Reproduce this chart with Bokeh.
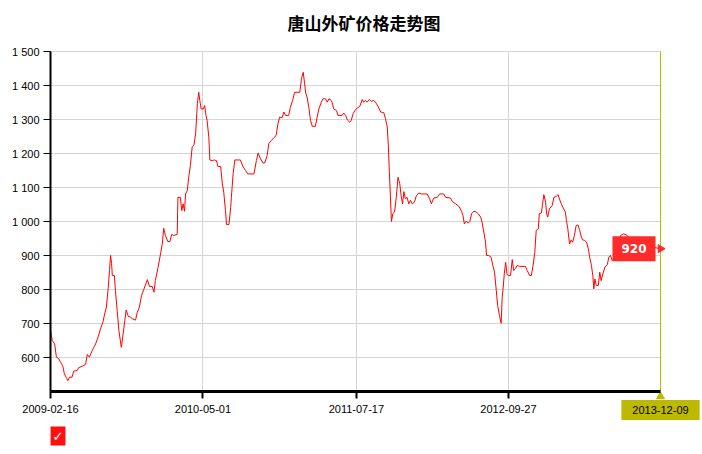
import pandas as pd
from math import pi
from bokeh.plotting import figure
from bokeh.models import Range1d, FixedTicker, DatetimeTickFormatter, Label
from bokeh.embed import file_html
from bokeh.resources import INLINE

title_text = "唐山外矿价格走势图"

dates = [
    "2009-02-16", "2009-02-21", "2009-02-28", "2009-03-05", "2009-03-12", "2009-03-17",
    "2009-03-23", "2009-03-28", "2009-04-02", "2009-04-07", "2009-04-12", "2009-04-19",
    "2009-04-24", "2009-05-04", "2009-05-08", "2009-05-18", "2009-05-28", "2009-06-02",
    "2009-06-08", "2009-06-16", "2009-06-26", "2009-07-03", "2009-07-10", "2009-07-17",
    "2009-07-22", "2009-07-27", "2009-08-01", "2009-08-05", "2009-08-08", "2009-08-11",
    "2009-08-13", "2009-08-19", "2009-08-22", "2009-08-27", "2009-09-01", "2009-09-08",
    "2009-09-12", "2009-09-18", "2009-09-22", "2009-09-28", "2009-10-04", "2009-10-11",
    "2009-10-19", "2009-10-24", "2009-10-30", "2009-11-05", "2009-11-12", "2009-11-22",
    "2009-11-28", "2009-12-06", "2009-12-11", "2009-12-15", "2009-12-22", "2009-12-30",
    "2010-01-04", "2010-01-08", "2010-01-13", "2010-01-20", "2010-01-26", "2010-01-31",
    "2010-02-06", "2010-02-16", "2010-02-18", "2010-02-25", "2010-03-01", "2010-03-05",
    "2010-03-09", "2010-03-12", "2010-03-17", "2010-03-21", "2010-03-26", "2010-03-31",
    "2010-04-05", "2010-04-10", "2010-04-15", "2010-04-19", "2010-04-22", "2010-04-26",
    "2010-05-02", "2010-05-06", "2010-05-09", "2010-05-13", "2010-05-18", "2010-05-21",
    "2010-05-28", "2010-06-03", "2010-06-09", "2010-06-13", "2010-06-21", "2010-06-26",
    "2010-06-30", "2010-07-05", "2010-07-08", "2010-07-15", "2010-07-20", "2010-07-22",
    "2010-07-27", "2010-08-01", "2010-08-17", "2010-08-25", "2010-09-01", "2010-09-07",
    "2010-09-25", "2010-10-02", "2010-10-07", "2010-10-14", "2010-10-21", "2010-10-26",
    "2010-11-02", "2010-11-07", "2010-11-14", "2010-11-21", "2010-11-28", "2010-12-03",
    "2010-12-08", "2010-12-15", "2010-12-20", "2010-12-25", "2011-01-03", "2011-01-08",
    "2011-01-15", "2011-01-20", "2011-02-04", "2011-02-09", "2011-02-14", "2011-02-18",
    "2011-02-21", "2011-02-25", "2011-03-02", "2011-03-07", "2011-03-12", "2011-03-21",
    "2011-03-26", "2011-03-31", "2011-04-07", "2011-04-12", "2011-04-19", "2011-04-24",
    "2011-04-29", "2011-05-03", "2011-05-08", "2011-05-13", "2011-05-21", "2011-05-25",
    "2011-06-06", "2011-06-11", "2011-06-16", "2011-06-21", "2011-06-28", "2011-07-02",
    "2011-07-08", "2011-07-15", "2011-07-27", "2011-08-03", "2011-08-07", "2011-08-12",
    "2011-08-17", "2011-08-24", "2011-08-29", "2011-09-04", "2011-09-10", "2011-09-17",
    "2011-09-25", "2011-10-04", "2011-10-09", "2011-10-14", "2011-10-17", "2011-10-20",
    "2011-10-23", "2011-10-26", "2011-10-30", "2011-11-04", "2011-11-09", "2011-11-14",
    "2011-11-19", "2011-11-23", "2011-11-27", "2011-12-01", "2011-12-05", "2011-12-10",
    "2011-12-15", "2011-12-20", "2011-12-25", "2011-12-31", "2012-01-06", "2012-01-13",
    "2012-01-20", "2012-02-06", "2012-02-13", "2012-02-18", "2012-02-25", "2012-03-06",
    "2012-03-13", "2012-03-25", "2012-03-30", "2012-04-13", "2012-04-18", "2012-04-28",
    "2012-05-07", "2012-05-15", "2012-05-19", "2012-05-23", "2012-05-28", "2012-06-03",
    "2012-06-08", "2012-06-13", "2012-06-19", "2012-06-26", "2012-07-02", "2012-07-09",
    "2012-07-13", "2012-07-18", "2012-07-23", "2012-07-26", "2012-08-01", "2012-08-08",
    "2012-08-13", "2012-08-18", "2012-08-23", "2012-08-27", "2012-09-01", "2012-09-06",
    "2012-09-09", "2012-09-12", "2012-09-15", "2012-09-19", "2012-09-23", "2012-09-28",
    "2012-10-03", "2012-10-08", "2012-10-12", "2012-10-17", "2012-10-22", "2012-10-29",
    "2012-11-15", "2012-11-20", "2012-11-27", "2012-12-02", "2012-12-07", "2012-12-12",
    "2012-12-16", "2012-12-22", "2012-12-25", "2012-12-31", "2013-01-04", "2013-01-07",
    "2013-01-12", "2013-01-15", "2013-01-18", "2013-01-23", "2013-01-31", "2013-02-05",
    "2013-02-12", "2013-02-17", "2013-02-21", "2013-02-27", "2013-03-05", "2013-03-10",
    "2013-03-13", "2013-03-17", "2013-03-22", "2013-03-27", "2013-03-31", "2013-04-05",
    "2013-04-10", "2013-04-15", "2013-04-20", "2013-04-25", "2013-04-29", "2013-05-05",
    "2013-05-10", "2013-05-15", "2013-05-19", "2013-05-24", "2013-05-28", "2013-05-31",
    "2013-06-03", "2013-06-07", "2013-06-13", "2013-06-17", "2013-06-21", "2013-06-26",
    "2013-07-02", "2013-07-09", "2013-07-13", "2013-07-18", "2013-07-23", "2013-08-01",
    "2013-08-06", "2013-08-16", "2013-08-25", "2013-09-04", "2013-09-13", "2013-10-01",
    "2013-10-15", "2013-10-30", "2013-11-09", "2013-11-19", "2013-12-09",
]

prices = [
    680, 650, 640, 601, 596, 586,
    576, 552, 542, 532, 542, 542,
    560, 562, 570, 574, 580, 609,
    601, 620, 640, 660, 684, 704,
    728, 748, 802, 856, 900, 876,
    841, 841, 797, 738, 679, 630,
    660, 709, 740, 721, 719, 713,
    710, 733, 748, 782, 801, 829,
    809, 809, 792, 826, 861, 905,
    934, 980, 959, 941, 941, 962,
    959, 962, 1071, 1071, 1032, 1052,
    1030, 1081, 1091, 1130, 1165, 1219,
    1224, 1258, 1346, 1380, 1356, 1331,
    1331, 1341, 1317, 1297, 1248, 1181,
    1179, 1181, 1179, 1162, 1162, 1111,
    1086, 1032, 991, 991, 1042, 1071,
    1140, 1181, 1181, 1160, 1150, 1140,
    1140, 1179, 1201, 1184, 1172, 1172,
    1194, 1230, 1238, 1246, 1253, 1287,
    1307, 1305, 1322, 1312, 1312, 1336,
    1358, 1380, 1380, 1420, 1439, 1405,
    1378, 1366, 1336, 1297, 1280, 1280,
    1307, 1331, 1351, 1361, 1361, 1351,
    1361, 1359, 1351, 1331, 1326, 1312,
    1312, 1319, 1312, 1299, 1292, 1297,
    1318, 1330, 1339, 1359, 1351, 1356,
    1351, 1359, 1353, 1356, 1351, 1339,
    1322, 1320, 1302, 1278, 1224, 1145,
    1076, 1000, 1023, 1028, 1071, 1130,
    1111, 1076, 1052, 1088, 1067, 1071,
    1052, 1062, 1052, 1057, 1076, 1084,
    1081, 1081, 1067, 1052, 1069, 1071,
    1081, 1081, 1071, 1069, 1059, 1052,
    1045, 1030, 1018, 993, 1001, 995,
    1001, 1023, 1030, 1028, 1023, 1013,
    998, 969, 939, 900, 900, 895,
    871, 851, 797, 753, 724, 701,
    777, 807, 846, 880, 844, 841,
    841, 888, 856, 861, 871, 868,
    868, 856, 841, 841, 871, 910,
    974, 979, 1023, 1025, 1057, 1079,
    1057, 1023, 1013, 1037, 1047, 1071,
    1074, 1079, 1066, 1050, 1037, 1028,
    1003, 979, 934, 946, 939, 959,
    988, 990, 976, 954, 946, 944,
    939, 920, 895, 871, 841, 802,
    831, 812, 812, 851, 826, 846,
    866, 873, 895, 900, 885, 895,
    929, 959, 964, 959, 945, 938,
    930, 934, 929, 924, 920,
]

x_tick_dates = ["2009-02-16", "2010-05-01", "2011-07-17", "2012-09-27"]
end_date = "2013-12-09"
y_ticks = [600, 700, 800, 900, 1000, 1100, 1200, 1300, 1400, 1500]
y_tick_labels = ["600", "700", "800", "900", "1 000", "1 100", "1 200", "1 300", "1 400", "1 500"]
y_min, y_max = 500, 1500
last_label = "920"

# ---- layout (pixels) ----
W, H = 702, 454
plot_left_px, plot_right_px, plot_top_px, plot_bottom_px = 50, 660, 51, 391

x = pd.to_datetime(dates)
start_ts = pd.Timestamp(x_tick_dates[0])
end_ts = pd.Timestamp(end_date)
span = end_ts - start_ts
plot_w = plot_right_px - plot_left_px
# the frame fills the whole canvas (axes are pinned with fixed_location),
# so that nothing drawn outside the plot area gets clipped
x_lo = start_ts - span * (plot_left_px / plot_w)
x_hi = end_ts + span * ((W - plot_right_px) / plot_w)
px_per_unit = (plot_bottom_px - plot_top_px) / (y_max - y_min)
y_lo = y_min - (H - plot_bottom_px) / px_per_unit
y_hi = y_max + plot_top_px / px_per_unit

p = figure(
    width=W, height=H,
    x_axis_type="datetime",
    x_range=Range1d(x_lo, x_hi),
    y_range=Range1d(y_lo, y_hi),
    output_backend="svg", toolbar_location=None,
    min_border=0,
)
p.background_fill_color = "white"
p.border_fill_color = "white"
p.outline_line_color = None

start_ms = start_ts.value // 10**6
end_ms = end_ts.value // 10**6
tick_ms = [pd.Timestamp(d).value // 10**6 for d in x_tick_dates]
p.xaxis.ticker = FixedTicker(ticks=tick_ms)
fmt = "%Y-%m-%d"
p.xaxis.formatter = DatetimeTickFormatter(
    milliseconds=fmt, seconds=fmt, minsec=fmt, minutes=fmt, hourmin=fmt,
    hours=fmt, days=fmt, months=fmt, years=fmt,
)
p.xaxis.fixed_location = y_min
p.xaxis.bounds = (start_ms, end_ms)
p.yaxis.ticker = FixedTicker(ticks=y_ticks)
p.yaxis.major_label_overrides = {t: lab for t, lab in zip(y_ticks, y_tick_labels)}
p.yaxis.fixed_location = start_ms
p.yaxis.bounds = (y_min, y_max)

tick_font = "Liberation Sans"
for ax in (p.xaxis[0], p.yaxis[0]):
    ax.axis_line_color = "black"
    ax.major_tick_line_color = "black"
    ax.major_tick_in = 0
    ax.minor_tick_line_color = None
    ax.major_label_text_font = tick_font
    ax.major_label_text_font_size = "11px"
    ax.major_label_text_color = "#000000"
p.xaxis.axis_line_width = 3
p.xaxis.major_tick_out = 7
p.xaxis.major_tick_line_width = 2
p.xaxis.major_label_standoff = 6
p.yaxis.axis_line_width = 2
p.yaxis.major_tick_out = 7
p.yaxis.major_tick_line_width = 1
p.yaxis.major_label_standoff = 4

grid_color = "#d4d4d4"
xg, yg = p.xgrid[0], p.ygrid[0]
if hasattr(type(xg), "cross_bounds"):
    xg.cross_bounds = (y_min, y_max)
    yg.cross_bounds = (start_ms, end_ms)
    xg.bounds = (start_ms, end_ms)
    yg.bounds = (y_min, y_max)
    xg.grid_line_color = grid_color
    yg.grid_line_color = grid_color
else:
    xg.visible = False
    yg.visible = False
    gx = pd.to_datetime(x_tick_dates)
    p.segment(x0=gx, y0=[y_min] * len(gx), x1=gx, y1=[y_max] * len(gx),
              line_color=grid_color, line_width=1)
    p.segment(x0=[start_ts] * len(y_ticks), y0=y_ticks, x1=[end_ts] * len(y_ticks),
              y1=y_ticks, line_color=grid_color, line_width=1)

# title
p.add_layout(Label(
    x=start_ts, y=y_max, text=title_text, x_offset=237, y_offset=29,
    text_align="left", text_baseline="middle",
    text_color="#000000", text_font="Noto Sans CJK SC", text_font_style="bold",
    text_font_size="17px",
))

olive = "#bdb900"
# crosshair at the last date
p.segment(x0=[end_ts], y0=[y_min], x1=[end_ts], y1=[y_max], line_color=olive, line_width=1)

p.line(x, prices, line_color="#ff0000", line_width=1)

# value flag at the last point
flag_red = "#ff2a2a"
p.add_layout(Label(
    x=x[-1], y=prices[-1], text=last_label, x_offset=-26.5, y_offset=0,
    text_align="center", text_baseline="middle",
    text_color="white", text_font="DejaVu Sans", text_font_style="bold",
    text_font_size="12px", background_fill_color=flag_red,
    padding=dict(left=9, right=9, top=8, bottom=8),
))
p.scatter([x[-1]], [prices[-1]], marker="triangle", size=8, angle=-pi / 2,
          fill_color=flag_red, line_color=flag_red)

# highlighted end date on the x axis
p.add_layout(Label(
    x=end_ts, y=y_min, text=end_date, x_offset=0, y_offset=-18.5,
    text_align="center", text_baseline="middle",
    text_color="#000000", text_font=tick_font, text_font_size="11px",
    background_fill_color=olive,
    padding=dict(left=11, right=11, top=6, bottom=6),
))
p.scatter([end_ts], [y_min - 5 / px_per_unit], marker="triangle", size=8,
          fill_color=olive, line_color=olive)

# legend checkbox
p.add_layout(Label(
    x=start_ts, y=y_min, text="✓", x_offset=7.5, y_offset=-44.5,
    text_align="center", text_baseline="middle",
    text_color="white", text_font="DejaVu Sans", text_font_style="bold",
    text_font_size="13px", background_fill_color="#ff1010",
    padding=dict(left=2, right=2, top=2, bottom=2),
))

open("out.html", "w").write(file_html(p, INLINE))
